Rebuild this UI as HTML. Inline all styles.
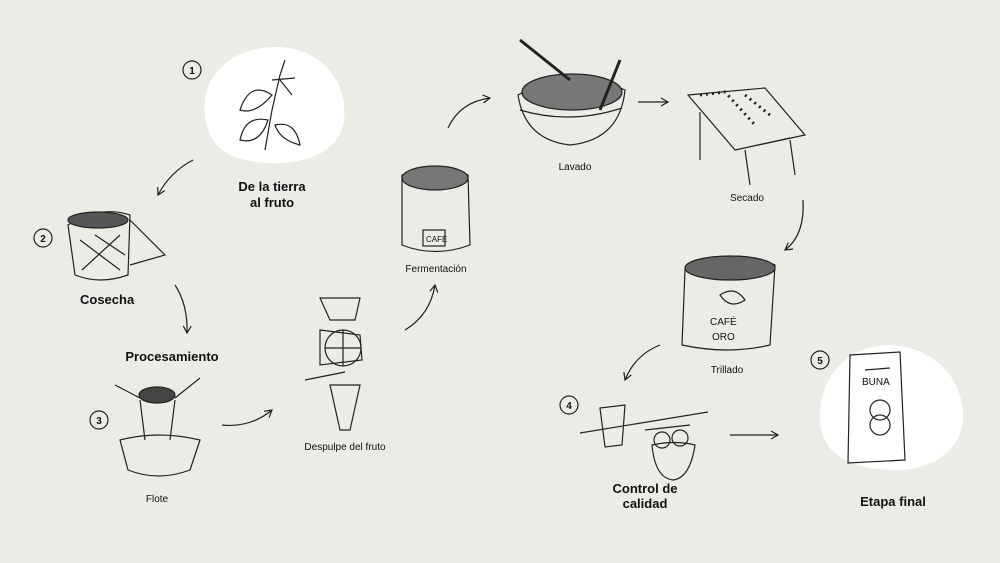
<!DOCTYPE html>
<html><head><meta charset="utf-8"><style>
html,body{margin:0;padding:0;background:#ecebe5;}
svg{display:block}
text{font-family:"Liberation Sans",sans-serif;fill:#111;stroke:none}
.b{font-weight:bold;font-size:13px}
.s{font-size:10px}
.n{font-weight:bold;font-size:10px}
</style></head><body>
<svg width="1000" height="563" viewBox="0 0 1000 563" xmlns="http://www.w3.org/2000/svg">
<defs><marker id="a" markerWidth="10" markerHeight="10" refX="8" refY="5" orient="auto" markerUnits="userSpaceOnUse"><path d="M1,1 L8,5 L1,9" fill="none" stroke="#222" stroke-width="1.2"/></marker></defs>
<g fill="none" stroke="#222" stroke-width="1.2">
<path d="M205,115 C200,70 240,45 280,47 C325,50 348,85 344,120 C340,155 300,165 265,163 C225,160 208,145 205,115Z" fill="#fff" stroke="none"/>
<path d="M820,420 C818,375 850,345 890,345 C935,347 965,380 963,420 C960,455 925,472 890,470 C850,468 822,455 820,420Z" fill="#fff" stroke="none"/>
<circle cx="192" cy="70" r="9"/><circle cx="43" cy="238" r="9"/><circle cx="99" cy="420" r="9"/><circle cx="569" cy="405" r="9"/><circle cx="820" cy="360" r="9"/>
<path d="M193,160 Q170,172 158,195" marker-end="url(#a)"/>
<path d="M175,285 Q188,305 187,333" marker-end="url(#a)"/>
<path d="M222,425 Q250,428 272,410" marker-end="url(#a)"/>
<path d="M405,330 Q430,315 435,285" marker-end="url(#a)"/>
<path d="M448,128 Q460,102 490,98" marker-end="url(#a)"/>
<path d="M638,102 L668,102" marker-end="url(#a)"/>
<path d="M803,200 Q805,235 785,250" marker-end="url(#a)"/>
<path d="M660,345 Q635,355 625,380" marker-end="url(#a)"/>
<path d="M730,435 L778,435" marker-end="url(#a)"/>
<path d="M265,150 L272,110 L280,75 M240,110 Q250,80 272,95 Q255,115 240,110Z M240,140 Q245,115 268,120 Q260,145 240,140Z M275,125 Q295,120 300,145 Q280,140 275,125Z M280,75 L285,60 M272,80 L295,78 M280,80 L292,95"/>
<path d="M68,225 Q100,205 130,215 L128,275 Q100,285 75,275 Z M130,220 L165,255 L130,265 M80,240 L120,270 M95,235 L125,255 M120,235 L82,270"/>
<ellipse cx="98" cy="220" rx="30" ry="8" fill="#555"/>
<ellipse cx="157" cy="395" rx="18" ry="8" fill="#444"/>
<path d="M120,440 Q158,430 200,440 L190,470 Q158,482 128,470 Z M140,400 L145,440 M175,400 L170,440 M115,385 L140,398 M200,378 L175,398"/>
<path d="M320,298 L360,298 L355,320 L330,320 Z M320,330 L360,335 L362,360 L320,365 Z M330,385 L360,385 L350,430 L340,430 Z M305,380 L345,372"/>
<circle cx="343" cy="348" r="18"/><path d="M343,330 L343,366 M325,348 L361,348"/>
<path d="M402,175 Q435,160 468,175 L470,245 Q435,258 402,245 Z"/>
<ellipse cx="435" cy="178" rx="33" ry="12" fill="#777"/>
<rect x="423" y="230" width="22" height="16"/>
<text x="426" y="242" style="font-size:8px">CAFÉ</text>
<path d="M518,95 Q570,65 625,90 Q620,140 570,145 Q525,140 518,95Z M520,110 Q570,125 622,108"/>
<ellipse cx="572" cy="92" rx="50" ry="18" fill="#777"/>
<path d="M520,40 L570,80 M600,110 L620,60" stroke-width="3"/>
<path d="M688,95 L765,88 L805,135 L735,150 Z M700,112 L700,160 M745,150 L750,185 M790,140 L795,175 M735,150 L790,138"/>
<path d="M700,95 L725,92 L755,125 M745,95 L770,115" stroke-width="3" stroke-dasharray="2 4"/>
<path d="M685,270 Q730,245 775,265 L770,345 Q728,355 682,345 Z M720,295 Q735,285 745,300 Q730,310 720,295Z"/>
<ellipse cx="730" cy="268" rx="45" ry="12" fill="#666"/>
<text x="710" y="325" class="s">CAFÉ</text><text x="712" y="340" class="s">ORO</text>
<path d="M580,433 L708,412 M600,408 L625,405 L622,445 L605,447 Z M652,445 Q675,440 695,445 Q690,478 673,480 Q655,478 652,445Z M645,430 L690,425"/>
<circle cx="662" cy="440" r="8"/><circle cx="680" cy="438" r="8"/>
<path d="M850,355 L900,352 L905,460 L848,463 Z M865,370 L890,368"/>
<circle cx="880" cy="410" r="10"/><circle cx="880" cy="425" r="10"/>
</g>
<text x="272" y="191" class="b" text-anchor="middle">De la tierra</text>
<text x="272" y="207" class="b" text-anchor="middle">al fruto</text>
<text x="80" y="304" class="b">Cosecha</text>
<text x="172" y="361" class="b" text-anchor="middle">Procesamiento</text>
<text x="157" y="502" class="s" text-anchor="middle">Flote</text>
<text x="345" y="450" class="s" text-anchor="middle">Despulpe del fruto</text>
<text x="436" y="272" class="s" text-anchor="middle">Fermentación</text>
<text x="575" y="170" class="s" text-anchor="middle">Lavado</text>
<text x="747" y="201" class="s" text-anchor="middle">Secado</text>
<text x="727" y="373" class="s" text-anchor="middle">Trillado</text>
<text x="645" y="493" class="b" text-anchor="middle">Control de</text>
<text x="645" y="508" class="b" text-anchor="middle">calidad</text>
<text x="893" y="506" class="b" text-anchor="middle">Etapa final</text>
<text x="192" y="74" class="n" text-anchor="middle">1</text>
<text x="43" y="242" class="n" text-anchor="middle">2</text>
<text x="99" y="424" class="n" text-anchor="middle">3</text>
<text x="569" y="409" class="n" text-anchor="middle">4</text>
<text x="820" y="364" class="n" text-anchor="middle">5</text>
<text x="862" y="385" class="s">BUNA</text>
</svg>
</body></html>
